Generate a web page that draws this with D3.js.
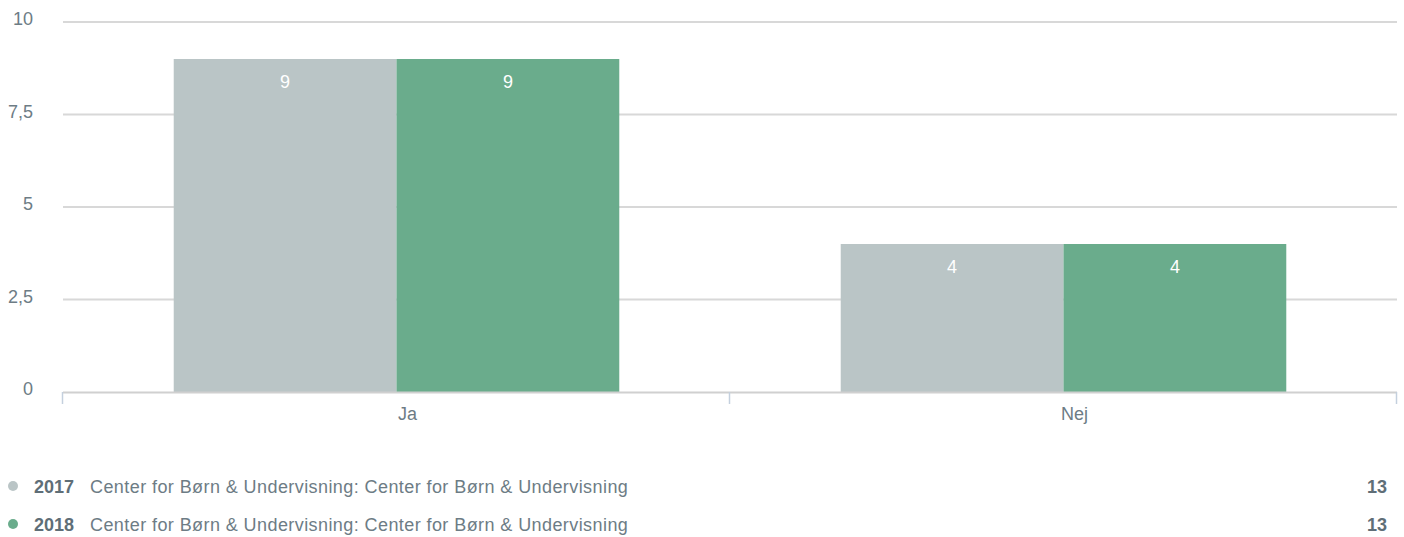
<!DOCTYPE html>
<html>
<head>
    <meta charset="utf-8">
    <title>Ja / Nej</title>
    <script src="https://cdn.jsdelivr.net/npm/d3@7"></script>
    <style>
        body { margin: 0; font-family: "Liberation Sans", Arial, sans-serif; background: #fff; }
        svg { display: block; }
        .grid line { stroke: #d8d8d8; stroke-width: 2px; }
        .tick-label { font-size: 18px; fill: #6d7c85; }
        .value-label { font-size: 18px; fill: #fff; }
        .legend text { font-size: 18px; fill: #6d7c85; letter-spacing: 0.42px; }
        .legend .year, .legend .total { font-weight: bold; fill: #5f6e77; letter-spacing: 0; }
    </style>
</head>
<body>
<svg width="1404" height="537"></svg>
<script>
    // data
    const categories = ["Ja", "Nej"];
    const seriesNames = ["2017", "2018"];
    const seriesColors = ["#bac5c6", "#6aac8c"];
    const values2017 = [9, 4];
    const values2018 = [9, 4];
    const yTicks = [0, 2.5, 5, 7.5, 10];
    const legendUnit = "Center for Børn & Undervisning: Center for Børn & Undervisning";
    const legendTotals = [13, 13];

    const series = [values2017, values2018];

    const svg = d3.select("svg");
    const plotLeft = 63, plotRight = 1397, plotTop = 22, plotBottom = 392;

    const y = d3.scaleLinear().domain([0, 10]).range([plotBottom, plotTop]);
    const x0 = d3.scaleBand().domain(categories).range([plotLeft, plotRight]);
    const bw = x0.bandwidth();
    const x1 = d3.scaleBand().domain(seriesNames).range([bw * 0.166, bw * 0.834]);

    const fmt = v => String(v).replace(".", ",");

    // grid lines
    const grid = svg.append("g").attr("class", "grid");
    grid.selectAll("line")
        .data(yTicks.filter(t => t > 0))
        .enter().append("line")
        .attr("x1", plotLeft).attr("x2", plotRight)
        .attr("y1", d => y(d)).attr("y2", d => y(d));

    // y labels
    svg.append("g").selectAll("text")
        .data(yTicks)
        .enter().append("text")
        .attr("class", "tick-label")
        .attr("x", 33)
        .attr("y", d => y(d) + 3)
        .attr("text-anchor", "end")
        .text(fmt);

    // bars
    const groups = svg.append("g").selectAll("g")
        .data(categories)
        .enter().append("g")
        .attr("transform", d => `translate(${x0(d)},0)`);

    groups.selectAll("rect")
        .data((d, i) => seriesNames.map((s, j) => ({ s, j, v: series[j][i] })))
        .enter().append("rect")
        .attr("x", d => x1(d.s))
        .attr("width", x1.bandwidth())
        .attr("y", d => y(d.v))
        .attr("height", d => y(0) - y(d.v))
        .attr("fill", d => seriesColors[d.j]);

    groups.selectAll("text")
        .data((d, i) => seriesNames.map((s, j) => ({ s, j, v: series[j][i] })))
        .enter().append("text")
        .attr("class", "value-label")
        .attr("x", d => x1(d.s) + x1.bandwidth() / 2)
        .attr("y", d => y(d.v) + 29)
        .attr("text-anchor", "middle")
        .text(d => fmt(d.v));

    // x axis
    svg.append("line")
        .attr("x1", plotLeft).attr("x2", plotRight)
        .attr("y1", plotBottom + 0.5).attr("y2", plotBottom + 0.5)
        .attr("stroke", "#d0d0d0").attr("stroke-width", 2);

    const xTicks = categories.map(c => x0(c)).concat([plotRight]);
    svg.append("g").selectAll("line")
        .data(xTicks)
        .enter().append("line")
        .attr("x1", d => d - 0.5).attr("x2", d => d - 0.5)
        .attr("y1", plotBottom).attr("y2", plotBottom + 12)
        .attr("stroke", "#c4d0de").attr("stroke-width", 1.5);

    svg.append("g").selectAll("text")
        .data(categories)
        .enter().append("text")
        .attr("class", "tick-label")
        .attr("x", d => x0(d) + bw / 2 + 11)
        .attr("y", 420)
        .attr("text-anchor", "middle")
        .text(d => d);

    // legend
    const legend = svg.append("g").attr("class", "legend")
        .selectAll("g")
        .data(seriesNames)
        .enter().append("g")
        .attr("transform", (d, i) => `translate(0,${486 + i * 38})`);

    legend.append("circle")
        .attr("cx", 13).attr("cy", 0).attr("r", 5)
        .attr("fill", (d, i) => seriesColors[i]);
    legend.append("text")
        .attr("class", "year")
        .attr("x", 34).attr("y", 6.5)
        .text(d => d);
    legend.append("text")
        .attr("x", 90).attr("y", 6.5)
        .text(legendUnit);
    legend.append("text")
        .attr("class", "total")
        .attr("x", 1387).attr("y", 6.5)
        .attr("text-anchor", "end")
        .text((d, i) => legendTotals[i]);
</script>
</body>
</html>
